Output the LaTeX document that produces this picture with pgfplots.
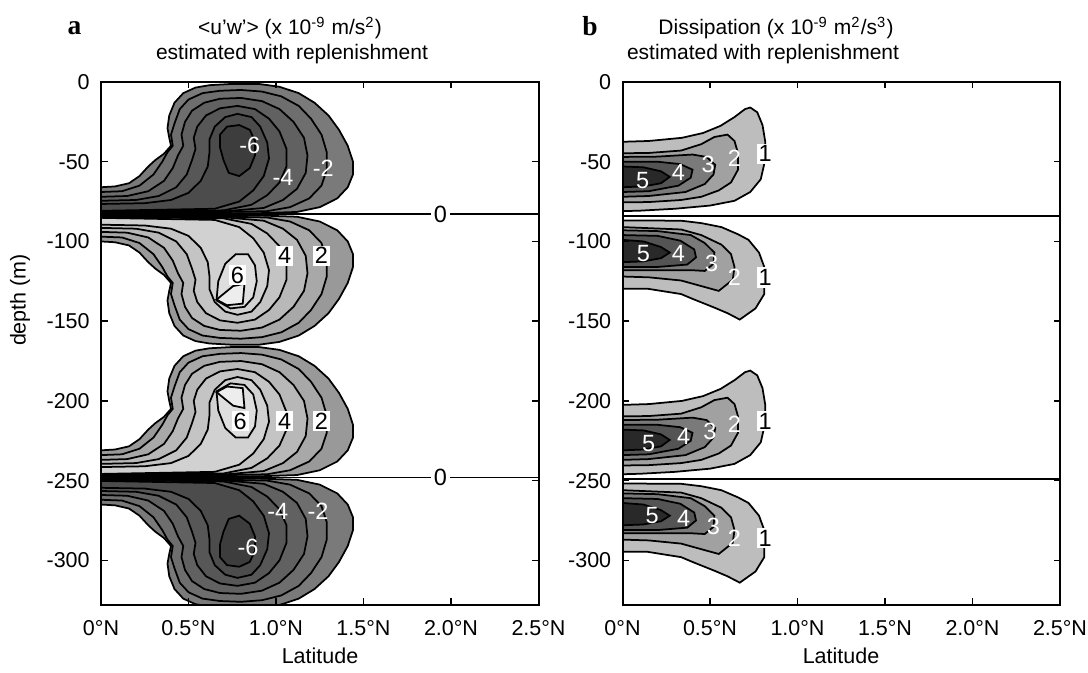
\documentclass[border=0pt]{standalone}
\usepackage{fontspec}
\setmainfont{Liberation Sans}
\newfontfamily\serifbf{Liberation Serif}
\usepackage{pgfplots}
\pgfplotsset{compat=1.18}

% contour shades
\colorlet{n1}{black!52}\colorlet{n2}{black!57}\colorlet{n3}{black!62}
\colorlet{n4}{black!66}\colorlet{n5}{black!70}\colorlet{n6}{black!76}
\colorlet{p1}{black!40}\colorlet{p2}{black!34}\colorlet{p3}{black!28}
\colorlet{p4}{black!23}\colorlet{p5}{black!18}\colorlet{p6}{black!13}\colorlet{p7}{black!7}
\colorlet{d1}{black!26}\colorlet{d2}{black!37}\colorlet{d3}{black!52}
\colorlet{d4}{black!67}\colorlet{d5}{black!84}

\pgfplotsset{
  panel/.style={
    scale only axis, width=175pt, height=209.2pt,
    xmin=0, xmax=2.5, ymin=-328, ymax=0,
    xtick={0,0.5,1,1.5,2,2.5},
    xticklabels={0°N,0.5°N,1.0°N,1.5°N,2.0°N,2.5°N},
    ytick={-300,-250,-200,-150,-100,-50,0},
    yticklabels={-300,-250,-200,-150,-100,-50,0},
    tick align=inside, tick pos=both, major tick length=2.6pt,
    axis line style={line width=0.8pt},
    every tick/.style={black, line width=0.6pt},
    tick label style={font=\fontsize{8.6}{10}\selectfont},
    xticklabel style={yshift=-2.5pt}, yticklabel style={xshift=-1pt},
    axis on top, clip=true,
  },
  lv/.style={draw=black, line width=0.7pt, fill=#1, forget plot},
  zl/.style={draw=black, line width=0.7pt, forget plot},
}
\tikzset{
  wl/.style={text=white, font=\fontsize{9.4}{10}\selectfont, inner sep=0.4pt},
  bl/.style={text=black, fill=white, font=\fontsize{9.4}{10}\selectfont, inner sep=0.8pt},
  tt/.style={font=\fontsize{8.4}{10}\selectfont, anchor=base},
}

\begin{document}
\begin{tikzpicture}
\useasboundingbox (-40.4pt,-236.4pt) rectangle (394.8pt,32.8pt);

% ---------------- panel a ----------------
\begin{axis}[panel, at={(0pt,0pt)}, anchor=north west]
% lobe 1 (negative)
\addplot[lv=n1] coordinates {(0,-66) (0.08,-65.5) (0.16,-63.5) (0.22,-59) (0.27,-53) (0.31,-49) (0.36,-45) (0.40,-40) (0.39,-35) (0.38,-29) (0.39,-21) (0.42,-13) (0.47,-7) (0.54,-3.5) (0.62,-2) (0.75,-1.2) (0.90,-1.2) (1.02,-3) (1.13,-7) (1.22,-13) (1.30,-21) (1.36,-30) (1.41,-40) (1.44,-50) (1.44,-58) (1.41,-66) (1.35,-73) (1.25,-78.5) (1.12,-81.5) (0.90,-82.3) (0.50,-82.6) (0,-82.8)} -- cycle;
\addplot[lv=n2] coordinates {(0,-69) (0.12,-68.5) (0.22,-65) (0.30,-58) (0.35,-50) (0.38,-44) (0.41,-40) (0.40,-33) (0.42,-26) (0.45,-17) (0.50,-11) (0.58,-7) (0.68,-5.5) (0.80,-5) (0.92,-6) (1.03,-9) (1.13,-15) (1.20,-23) (1.26,-33) (1.29,-44) (1.29,-55) (1.26,-65) (1.19,-73) (1.08,-78.5) (0.95,-81) (0.60,-81.8) (0,-82.2)} -- cycle;
\addplot[lv=n3] coordinates {(0,-72) (0.15,-71.5) (0.27,-68.5) (0.36,-62) (0.41,-54) (0.44,-46) (0.47,-40) (0.46,-33) (0.48,-25) (0.52,-18) (0.59,-13) (0.68,-10.5) (0.80,-10) (0.92,-12) (1.02,-17) (1.10,-25) (1.16,-35) (1.18,-46) (1.17,-57) (1.12,-67) (1.04,-74) (0.93,-79) (0.70,-81.2) (0,-81.8)} -- cycle;
\addplot[lv=n4] coordinates {(0,-74.5) (0.20,-74) (0.33,-71.5) (0.43,-66) (0.49,-58) (0.52,-49) (0.54,-42) (0.53,-35) (0.55,-28) (0.60,-21) (0.68,-16.5) (0.78,-15) (0.88,-17) (0.96,-23) (1.02,-31) (1.06,-42) (1.06,-53) (1.02,-63) (0.95,-71) (0.86,-77) (0.70,-80.5) (0,-81.3)} -- cycle;
\addplot[lv=n5] coordinates {(0,-76.5) (0.25,-76) (0.40,-74) (0.50,-69.5) (0.57,-62) (0.61,-53) (0.62,-44) (0.62,-36) (0.65,-28) (0.71,-22) (0.78,-20) (0.86,-22) (0.91,-28) (0.95,-38) (0.96,-48) (0.93,-59) (0.87,-68) (0.79,-75) (0.65,-79.5) (0,-80.8)} -- cycle;
\addplot[lv=n6] coordinates {(0.68,-33) (0.72,-28) (0.79,-27) (0.85,-30) (0.88,-37) (0.88,-46) (0.85,-54) (0.79,-59) (0.73,-57) (0.70,-49) (0.68,-41)} -- cycle;
% lobe 2 (positive)
\addplot[lv=p1] coordinates {(0,-100) (0.08,-100.5) (0.16,-102.5) (0.22,-107) (0.27,-113) (0.31,-117) (0.36,-121) (0.40,-126) (0.39,-131) (0.38,-137) (0.39,-145) (0.42,-153) (0.47,-159) (0.54,-162.5) (0.62,-164) (0.75,-164.8) (0.90,-164.8) (1.02,-163) (1.13,-159) (1.22,-153) (1.30,-145) (1.36,-136) (1.41,-126) (1.44,-116) (1.44,-108) (1.41,-100) (1.35,-93) (1.25,-87.5) (1.12,-84.5) (0.90,-83.7) (0.50,-83.4) (0,-83.2)} -- cycle;
\addplot[lv=p2] coordinates {(0,-97) (0.12,-97.5) (0.22,-101) (0.30,-108) (0.35,-116) (0.38,-122) (0.41,-126) (0.40,-133) (0.42,-140) (0.45,-149) (0.50,-155) (0.58,-159) (0.68,-160.5) (0.80,-161) (0.92,-160) (1.03,-157) (1.13,-151) (1.20,-143) (1.26,-133) (1.29,-122) (1.29,-111) (1.26,-101) (1.19,-93) (1.08,-87.5) (0.95,-85) (0.60,-84.2) (0,-83.8)} -- cycle;
\addplot[lv=p3] coordinates {(0,-94) (0.15,-94.5) (0.27,-97.5) (0.36,-104) (0.41,-112) (0.44,-120) (0.47,-126) (0.46,-133) (0.48,-141) (0.52,-148) (0.59,-153) (0.68,-155.5) (0.80,-156) (0.92,-154) (1.02,-149) (1.10,-141) (1.16,-131) (1.18,-120) (1.17,-109) (1.12,-99) (1.04,-92) (0.93,-87) (0.70,-84.8) (0,-84.2)} -- cycle;
\addplot[lv=p4] coordinates {(0,-91.5) (0.20,-92) (0.33,-94.5) (0.43,-100) (0.49,-108) (0.52,-117) (0.54,-124) (0.53,-131) (0.55,-138) (0.60,-145) (0.68,-149.5) (0.78,-151) (0.88,-149) (0.96,-143) (1.02,-135) (1.06,-124) (1.06,-113) (1.02,-103) (0.95,-95) (0.86,-89) (0.70,-85.5) (0,-84.7)} -- cycle;
\addplot[lv=p5] coordinates {(0,-89.5) (0.25,-90) (0.40,-92) (0.50,-96.5) (0.57,-104) (0.61,-113) (0.62,-122) (0.62,-130) (0.65,-138) (0.71,-144) (0.78,-146) (0.86,-144) (0.91,-138) (0.95,-128) (0.96,-118) (0.93,-107) (0.87,-98) (0.79,-91) (0.65,-86.5) (0,-85.2)} -- cycle;
\addplot[lv=p6] coordinates {(0.66,-137) (0.67,-125) (0.71,-114) (0.77,-108) (0.84,-108) (0.88,-115) (0.89,-125) (0.87,-135) (0.82,-141) (0.74,-142)} -- cycle;
\addplot[lv=p7] coordinates {(0.66,-136.5) (0.755,-128) (0.82,-126.5) (0.81,-139) (0.72,-140)} -- cycle;
% lobe 3 (positive)
\addplot[lv=p1] coordinates {(0,-231) (0.08,-230.5) (0.16,-228.5) (0.22,-224) (0.27,-218) (0.31,-214) (0.36,-210) (0.40,-205) (0.39,-200) (0.38,-194) (0.39,-186) (0.42,-178) (0.47,-172) (0.54,-168.5) (0.62,-167) (0.75,-166.2) (0.90,-166.2) (1.02,-168) (1.13,-172) (1.22,-178) (1.30,-186) (1.36,-195) (1.41,-205) (1.44,-215) (1.44,-223) (1.41,-231) (1.35,-238) (1.25,-243.5) (1.12,-246.5) (0.90,-247.3) (0.50,-247.6) (0,-247.8)} -- cycle;
\addplot[lv=p2] coordinates {(0,-234) (0.12,-233.5) (0.22,-230) (0.30,-223) (0.35,-215) (0.38,-209) (0.41,-205) (0.40,-198) (0.42,-191) (0.45,-182) (0.50,-176) (0.58,-172) (0.68,-170.5) (0.80,-170) (0.92,-171) (1.03,-174) (1.13,-180) (1.20,-188) (1.26,-198) (1.29,-209) (1.29,-220) (1.26,-230) (1.19,-238) (1.08,-243.5) (0.95,-246) (0.60,-246.8) (0,-247.2)} -- cycle;
\addplot[lv=p3] coordinates {(0,-237) (0.15,-236.5) (0.27,-233.5) (0.36,-227) (0.41,-219) (0.44,-211) (0.47,-205) (0.46,-198) (0.48,-190) (0.52,-183) (0.59,-178) (0.68,-175.5) (0.80,-175) (0.92,-177) (1.02,-182) (1.10,-190) (1.16,-200) (1.18,-211) (1.17,-222) (1.12,-232) (1.04,-239) (0.93,-244) (0.70,-246.2) (0,-246.8)} -- cycle;
\addplot[lv=p4] coordinates {(0,-239.5) (0.20,-239) (0.33,-236.5) (0.43,-231) (0.49,-223) (0.52,-214) (0.54,-207) (0.53,-200) (0.55,-193) (0.60,-186) (0.68,-181.5) (0.78,-180) (0.88,-182) (0.96,-188) (1.02,-196) (1.06,-207) (1.06,-218) (1.02,-228) (0.95,-236) (0.86,-242) (0.70,-245.5) (0,-246.3)} -- cycle;
\addplot[lv=p5] coordinates {(0,-241.5) (0.25,-241) (0.40,-239) (0.50,-234.5) (0.57,-227) (0.61,-218) (0.62,-209) (0.62,-201) (0.65,-193) (0.71,-187) (0.78,-185) (0.86,-187) (0.91,-193) (0.95,-203) (0.96,-213) (0.93,-224) (0.87,-233) (0.79,-240) (0.65,-244.5) (0,-245.8)} -- cycle;
\addplot[lv=p6] coordinates {(0.66,-194) (0.67,-206) (0.71,-217) (0.77,-223) (0.84,-223) (0.88,-216) (0.89,-206) (0.87,-196) (0.82,-190) (0.74,-189)} -- cycle;
\addplot[lv=p7] coordinates {(0.66,-194.5) (0.755,-203) (0.82,-204.5) (0.81,-192) (0.72,-191)} -- cycle;
% lobe 4 (negative)
\addplot[lv=n1] coordinates {(0,-265) (0.08,-265.5) (0.16,-267.5) (0.22,-272) (0.27,-278) (0.31,-282) (0.36,-286) (0.40,-291) (0.39,-296) (0.38,-302) (0.39,-310) (0.42,-318) (0.47,-324) (0.54,-327.5) (0.62,-329) (0.75,-329.8) (0.90,-329.8) (1.02,-328) (1.13,-324) (1.22,-318) (1.30,-310) (1.36,-301) (1.41,-291) (1.44,-281) (1.44,-273) (1.41,-265) (1.35,-258) (1.25,-252.5) (1.12,-249.5) (0.90,-248.7) (0.50,-248.4) (0,-248.2)} -- cycle;
\addplot[lv=n2] coordinates {(0,-262) (0.12,-262.5) (0.22,-266) (0.30,-273) (0.35,-281) (0.38,-287) (0.41,-291) (0.40,-298) (0.42,-305) (0.45,-314) (0.50,-320) (0.58,-324) (0.68,-325.5) (0.80,-326) (0.92,-325) (1.03,-322) (1.13,-316) (1.20,-308) (1.26,-298) (1.29,-287) (1.29,-276) (1.26,-266) (1.19,-258) (1.08,-252.5) (0.95,-250) (0.60,-249.2) (0,-248.8)} -- cycle;
\addplot[lv=n3] coordinates {(0,-259) (0.15,-259.5) (0.27,-262.5) (0.36,-269) (0.41,-277) (0.44,-285) (0.47,-291) (0.46,-298) (0.48,-306) (0.52,-313) (0.59,-318) (0.68,-320.5) (0.80,-321) (0.92,-319) (1.02,-314) (1.10,-306) (1.16,-296) (1.18,-285) (1.17,-274) (1.12,-264) (1.04,-257) (0.93,-252) (0.70,-249.8) (0,-249.2)} -- cycle;
\addplot[lv=n4] coordinates {(0,-256.5) (0.20,-257) (0.33,-259.5) (0.43,-265) (0.49,-273) (0.52,-282) (0.54,-289) (0.53,-296) (0.55,-303) (0.60,-310) (0.68,-314.5) (0.78,-316) (0.88,-314) (0.96,-308) (1.02,-300) (1.06,-289) (1.06,-278) (1.02,-268) (0.95,-260) (0.86,-254) (0.70,-250.5) (0,-249.7)} -- cycle;
\addplot[lv=n5] coordinates {(0,-254.5) (0.25,-255) (0.40,-257) (0.50,-261.5) (0.57,-269) (0.61,-278) (0.62,-287) (0.62,-295) (0.65,-303) (0.71,-309) (0.78,-311) (0.86,-309) (0.91,-303) (0.95,-293) (0.96,-283) (0.93,-272) (0.87,-263) (0.79,-256) (0.65,-251.5) (0,-250.2)} -- cycle;
\addplot[lv=n6] coordinates {(0.68,-298) (0.72,-303) (0.79,-304) (0.85,-301) (0.88,-294) (0.88,-285) (0.85,-277) (0.79,-272) (0.73,-274) (0.70,-282) (0.68,-290)} -- cycle;
% zero contours
\addplot[zl] coordinates {(0,-83) (2.5,-83)};
\addplot[zl] coordinates {(0,-248) (2.5,-248)};
\node[bl, fill=white, inner sep=1.2pt] at (axis cs:1.94,-83) {0};
\node[bl, fill=white, inner sep=1.2pt] at (axis cs:1.94,-248) {0};
% contour labels
\node[wl] at (axis cs:0.85,-40) {-6};
\node[wl] at (axis cs:1.04,-60) {-4};
\node[wl] at (axis cs:1.27,-54) {-2};
\node[bl] at (axis cs:0.78,-121) {6};
\node[bl] at (axis cs:1.05,-109) {4};
\node[bl] at (axis cs:1.26,-109) {2};
\node[bl] at (axis cs:0.795,-212.6) {6};
\node[bl] at (axis cs:1.05,-212.6) {4};
\node[bl] at (axis cs:1.26,-212.6) {2};
\node[wl] at (axis cs:1.01,-269) {-4};
\node[wl] at (axis cs:1.24,-269) {-2};
\node[wl] at (axis cs:0.84,-292) {-6};
\end{axis}

% ---------------- panel b ----------------
\begin{axis}[panel, at={(208.6pt,0pt)}, anchor=north west]
% lobe 1
\addplot[lv=d1] coordinates {(0,-37.5) (0.15,-37) (0.34,-35) (0.46,-32) (0.56,-27.5) (0.64,-22) (0.70,-17) (0.73,-16) (0.77,-19) (0.80,-27) (0.815,-37) (0.815,-49) (0.79,-61) (0.73,-69) (0.64,-74.5) (0.50,-77.5) (0.30,-79.5) (0.10,-80.7) (0,-81)} -- cycle;
\addplot[lv=d2] coordinates {(0,-44.7) (0.15,-44.5) (0.335,-43) (0.45,-39) (0.525,-34.5) (0.60,-33) (0.64,-37) (0.66,-44.7) (0.66,-55) (0.62,-63) (0.55,-68) (0.45,-72) (0.335,-74) (0.15,-75.3) (0,-75.5)} -- cycle;
\addplot[lv=d3] coordinates {(0,-47) (0.2,-46.8) (0.40,-45.5) (0.48,-47) (0.53,-52) (0.52,-58) (0.47,-64) (0.36,-69) (0.15,-71.5) (0,-72)} -- cycle;
\addplot[lv=d4] coordinates {(0,-50) (0.2,-50) (0.33,-51.5) (0.40,-55) (0.39,-60) (0.32,-65) (0.15,-68.5) (0,-69)} -- cycle;
\addplot[lv=d5] coordinates {(0,-53) (0.12,-53.5) (0.22,-56) (0.27,-59.5) (0.22,-63.5) (0.12,-65.5) (0,-66)} -- cycle;
% lobe 2
\addplot[lv=d1] coordinates {(0,-86.8) (0.335,-87) (0.45,-88.5) (0.565,-91) (0.66,-95.5) (0.72,-99) (0.78,-107) (0.81,-116) (0.81,-133) (0.76,-142) (0.67,-149) (0.60,-145) (0.525,-141.5) (0.40,-136) (0.335,-133) (0.14,-129.6) (0,-129.6)} -- cycle;
\addplot[lv=d2] coordinates {(0,-91) (0.335,-92.5) (0.45,-96) (0.565,-102) (0.62,-108) (0.64,-116) (0.63,-124) (0.55,-131) (0.45,-128) (0.335,-124.5) (0.15,-122.5) (0,-122)} -- cycle;
\addplot[lv=d3] coordinates {(0,-93) (0.2,-93.5) (0.39,-96) (0.47,-101) (0.525,-107) (0.52,-114) (0.47,-118.5) (0.39,-118) (0.2,-118) (0,-118)} -- cycle;
\addplot[lv=d4] coordinates {(0,-96) (0.2,-96.5) (0.33,-99.5) (0.41,-105) (0.42,-110) (0.37,-114.5) (0.2,-116) (0,-116)} -- cycle;
\addplot[lv=d5] coordinates {(0,-99) (0.12,-100) (0.22,-103.5) (0.27,-107) (0.22,-110.5) (0.12,-112.5) (0,-113)} -- cycle;
% lobe 3
\addplot[lv=d1] coordinates {(0,-202.5) (0.15,-202) (0.34,-200) (0.46,-197) (0.56,-192.5) (0.64,-187) (0.70,-182) (0.73,-181) (0.77,-184) (0.80,-192) (0.815,-202) (0.815,-214) (0.79,-226) (0.73,-234) (0.64,-239.5) (0.50,-242.5) (0.30,-244.5) (0.10,-245.7) (0,-246)} -- cycle;
\addplot[lv=d2] coordinates {(0,-209.7) (0.15,-209.5) (0.335,-208) (0.45,-204) (0.525,-199.5) (0.60,-198) (0.64,-202) (0.66,-209.7) (0.66,-220) (0.62,-228) (0.55,-233) (0.45,-237) (0.335,-239) (0.15,-240.3) (0,-240.5)} -- cycle;
\addplot[lv=d3] coordinates {(0,-212) (0.2,-211.8) (0.40,-210.5) (0.48,-212) (0.53,-217) (0.52,-223) (0.47,-229) (0.36,-234) (0.15,-236.5) (0,-237)} -- cycle;
\addplot[lv=d4] coordinates {(0,-215) (0.2,-215) (0.33,-216.5) (0.40,-220) (0.39,-225) (0.32,-230) (0.15,-233.5) (0,-234)} -- cycle;
\addplot[lv=d5] coordinates {(0,-218) (0.12,-218.5) (0.22,-221) (0.27,-224.5) (0.22,-228.5) (0.12,-230.5) (0,-231)} -- cycle;
% lobe 4
\addplot[lv=d1] coordinates {(0,-251.8) (0.335,-252) (0.45,-253.5) (0.565,-256) (0.66,-260.5) (0.72,-264) (0.78,-272) (0.81,-281) (0.81,-298) (0.76,-307) (0.67,-314) (0.60,-310) (0.525,-306.5) (0.40,-301) (0.335,-298) (0.14,-294.6) (0,-294.6)} -- cycle;
\addplot[lv=d2] coordinates {(0,-256) (0.335,-257.5) (0.45,-261) (0.565,-267) (0.62,-273) (0.64,-281) (0.63,-289) (0.55,-296) (0.45,-293) (0.335,-289.5) (0.15,-287.5) (0,-287)} -- cycle;
\addplot[lv=d3] coordinates {(0,-258) (0.2,-258.5) (0.39,-261) (0.47,-266) (0.525,-272) (0.52,-279) (0.47,-283.5) (0.39,-283) (0.2,-283) (0,-283)} -- cycle;
\addplot[lv=d4] coordinates {(0,-261) (0.2,-261.5) (0.33,-264.5) (0.41,-270) (0.42,-275) (0.37,-279.5) (0.2,-281) (0,-281)} -- cycle;
\addplot[lv=d5] coordinates {(0,-264) (0.12,-265) (0.22,-268.5) (0.27,-272) (0.22,-275.5) (0.12,-277.5) (0,-278)} -- cycle;
% zero lines
\addplot[zl] coordinates {(0,-84) (2.5,-84)};
\addplot[zl] coordinates {(0,-249) (2.5,-249)};
% labels
\node[wl] at (axis cs:0.115,-61.6) {5};
\node[wl] at (axis cs:0.32,-57) {4};
\node[wl] at (axis cs:0.49,-52) {3};
\node[wl] at (axis cs:0.64,-48) {2};
\node[bl] at (axis cs:0.815,-45) {1};
\node[wl] at (axis cs:0.12,-107.5) {5};
\node[wl] at (axis cs:0.32,-107.5) {4};
\node[wl] at (axis cs:0.51,-114) {3};
\node[wl] at (axis cs:0.64,-122.6) {2};
\node[bl] at (axis cs:0.815,-122.6) {1};
\node[wl] at (axis cs:0.15,-227) {5};
\node[wl] at (axis cs:0.35,-222) {4};
\node[wl] at (axis cs:0.50,-219) {3};
\node[wl] at (axis cs:0.64,-214.5) {2};
\node[bl] at (axis cs:0.815,-212.6) {1};
\node[wl] at (axis cs:0.17,-272) {5};
\node[wl] at (axis cs:0.35,-274) {4};
\node[wl] at (axis cs:0.52,-278.6) {3};
\node[wl] at (axis cs:0.64,-286) {2};
\node[bl] at (axis cs:0.815,-286) {1};
\end{axis}

% titles and labels
\node[anchor=base, font=\serifbf\bfseries\fontsize{11}{12}\selectfont] at (-10.6pt,18.8pt) {a};
\node[anchor=base, font=\serifbf\bfseries\fontsize{11}{12}\selectfont] at (195.6pt,18.4pt) {b};
\node[tt] at (75.6pt,18.8pt) {<u’w’> (x 10\textsuperscript{-9} m/s\textsuperscript{2})};
\node[tt] at (76.4pt,8.8pt) {estimated with replenishment};
\node[tt] at (270pt,18.8pt) {Dissipation (x 10\textsuperscript{-9} m\textsuperscript{2}/s\textsuperscript{3})};
\node[tt] at (264.8pt,8.8pt) {estimated with replenishment};
\node[font=\fontsize{8.6}{10}\selectfont, rotate=90] at (-32.4pt,-87.2pt) {depth (m)};
\node[tt, font=\fontsize{8.6}{10}\selectfont] at (87.6pt,-232.4pt) {Latitude};
\node[tt, font=\fontsize{8.6}{10}\selectfont] at (296pt,-232.4pt) {Latitude};
\end{tikzpicture}
\end{document}
